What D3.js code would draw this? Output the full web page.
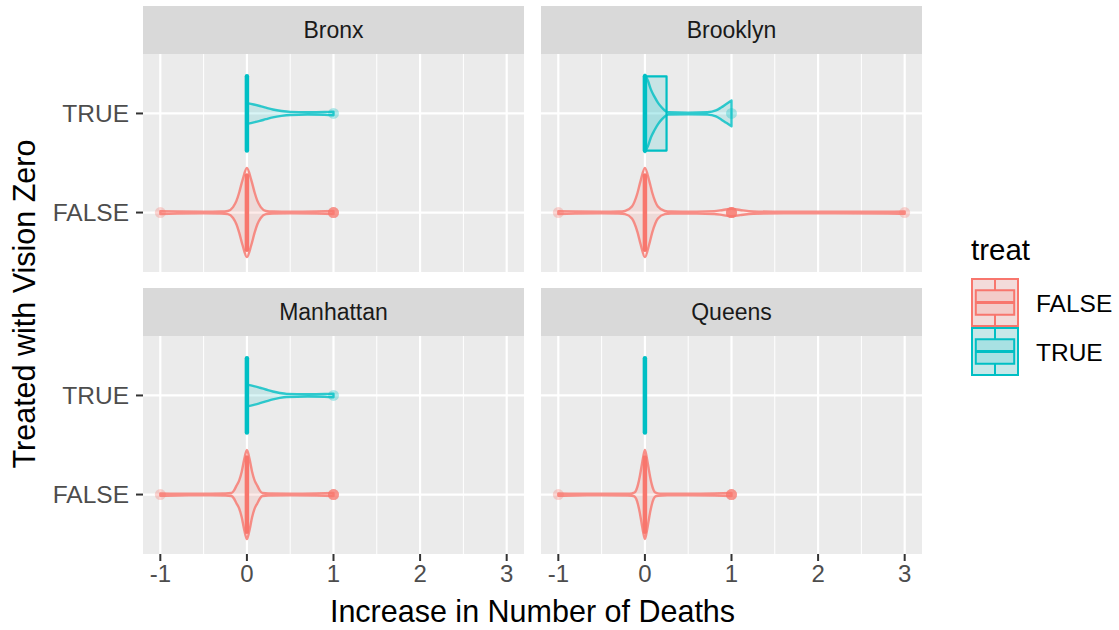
<!DOCTYPE html>
<html>
<head>
<meta charset="utf-8">
<script src="https://cdn.jsdelivr.net/npm/d3@7"></script>
<style>
  body { margin: 0; background: #fff; }
  text { font-family: "Liberation Sans", Arial, sans-serif; }
</style>
</head>
<body>
<svg id="chart"></svg>
<script>
const boroughs = ["Bronx", "Brooklyn", "Manhattan", "Queens"]
const treatLevels = ["TRUE", "FALSE"]
const xTicks = [-1, 0, 1, 2, 3]
const xMinorTicks = [-0.5, 0.5, 1.5, 2.5]

// violin outlines: [value, half width as share of the group spacing]
const bronxFalseViolin = [[-1, 0.014], [-0.8, 0.01], [-0.5, 0.008], [-0.3, 0.01], [-0.22, 0.016], [-0.16, 0.055], [-0.12, 0.12], [-0.09, 0.2], [-0.05, 0.33], [0, 0.45], [0.05, 0.33], [0.09, 0.2], [0.12, 0.12], [0.16, 0.055], [0.22, 0.016], [0.3, 0.01], [0.5, 0.008], [0.8, 0.011], [1, 0.016]]
const bronxTrueViolin = [[0, 0.105], [0.08, 0.09], [0.15, 0.075], [0.22, 0.058], [0.3, 0.04], [0.4, 0.025], [0.5, 0.016], [0.7, 0.012], [0.9, 0.014], [1, 0.018]]
const brooklynFalseViolin = [[-1, 0.014], [-0.8, 0.01], [-0.5, 0.008], [-0.3, 0.01], [-0.23, 0.016], [-0.15, 0.06], [-0.12, 0.11], [-0.085, 0.2], [-0.05, 0.32], [0, 0.45], [0.05, 0.32], [0.085, 0.2], [0.12, 0.11], [0.15, 0.06], [0.23, 0.016], [0.3, 0.01], [0.6, 0.009], [0.8, 0.014], [0.9, 0.026], [1, 0.038], [1.1, 0.026], [1.25, 0.012], [1.6, 0.008], [2.2, 0.008], [2.8, 0.009], [3, 0.012]]
const brooklynTrueViolin = [[0, 0.39], [0.035, 0.33], [0.07, 0.24], [0.11, 0.17], [0.15, 0.11], [0.19, 0.065], [0.23, 0.03], [0.27, 0.012], [0.5, 0.008], [0.72, 0.012], [0.82, 0.03], [0.88, 0.06], [0.94, 0.095], [1, 0.13]]
const manhattanFalseViolin = [[-1, 0.012], [-0.8, 0.009], [-0.5, 0.008], [-0.25, 0.01], [-0.18, 0.015], [-0.15, 0.04], [-0.12, 0.09], [-0.09, 0.14], [-0.06, 0.23], [-0.03, 0.36], [0, 0.45], [0.03, 0.36], [0.06, 0.23], [0.09, 0.14], [0.12, 0.09], [0.15, 0.04], [0.18, 0.015], [0.25, 0.01], [0.5, 0.008], [0.8, 0.011], [1, 0.016]]
const manhattanTrueViolin = [[0, 0.11], [0.08, 0.095], [0.15, 0.078], [0.22, 0.06], [0.3, 0.04], [0.38, 0.025], [0.46, 0.016], [0.7, 0.012], [0.9, 0.014], [1, 0.018]]
const queensFalseViolin = [[-1, 0.012], [-0.8, 0.009], [-0.5, 0.008], [-0.2, 0.009], [-0.15, 0.012], [-0.12, 0.02], [-0.1, 0.045], [-0.08, 0.1], [-0.06, 0.18], [-0.04, 0.28], [-0.02, 0.38], [0, 0.45], [0.02, 0.38], [0.04, 0.28], [0.06, 0.18], [0.08, 0.1], [0.1, 0.045], [0.12, 0.02], [0.15, 0.012], [0.2, 0.009], [0.5, 0.008], [0.8, 0.011], [1, 0.016]]

const violins = [
  { borough: "Bronx", treat: "FALSE", shape: bronxFalseViolin },
  { borough: "Bronx", treat: "TRUE", shape: bronxTrueViolin },
  { borough: "Brooklyn", treat: "FALSE", shape: brooklynFalseViolin },
  { borough: "Brooklyn", treat: "TRUE", shape: brooklynTrueViolin },
  { borough: "Manhattan", treat: "FALSE", shape: manhattanFalseViolin },
  { borough: "Manhattan", treat: "TRUE", shape: manhattanTrueViolin },
  { borough: "Queens", treat: "FALSE", shape: queensFalseViolin },
]

const boxStats = [
  { borough: "Bronx", treat: "FALSE", q1: 0, med: 0, q3: 0 },
  { borough: "Bronx", treat: "TRUE", q1: 0, med: 0, q3: 0 },
  { borough: "Brooklyn", treat: "FALSE", q1: 0, med: 0, q3: 0 },
  { borough: "Brooklyn", treat: "TRUE", q1: 0, med: 0, q3: 0.25 },
  { borough: "Manhattan", treat: "FALSE", q1: 0, med: 0, q3: 0 },
  { borough: "Manhattan", treat: "TRUE", q1: 0, med: 0, q3: 0 },
  { borough: "Queens", treat: "FALSE", q1: 0, med: 0, q3: 0 },
  { borough: "Queens", treat: "TRUE", q1: 0, med: 0, q3: 0 },
]

// outliers: value and how many points sit on it
const outliers = [
  { borough: "Bronx", treat: "FALSE", value: -1, n: 1 },
  { borough: "Bronx", treat: "FALSE", value: 1, n: 4 },
  { borough: "Bronx", treat: "TRUE", value: 1, n: 1 },
  { borough: "Brooklyn", treat: "FALSE", value: -1, n: 1 },
  { borough: "Brooklyn", treat: "FALSE", value: 1, n: 5 },
  { borough: "Brooklyn", treat: "FALSE", value: 3, n: 1 },
  { borough: "Brooklyn", treat: "TRUE", value: 1, n: 1 },
  { borough: "Manhattan", treat: "FALSE", value: -1, n: 1 },
  { borough: "Manhattan", treat: "FALSE", value: 1, n: 4 },
  { borough: "Manhattan", treat: "TRUE", value: 1, n: 1 },
  { borough: "Queens", treat: "FALSE", value: -1, n: 1 },
  { borough: "Queens", treat: "FALSE", value: 1, n: 4 },
]

const colors = { FALSE: "#F8766D", TRUE: "#00BFC4" }

const w = 1119
const h = 630
const panelLeft = [143, 541]
const panelW = 381
const stripTop = [6, 288]
const stripH = 48
const panelH = 218

const svg = d3.select("#chart").attr("width", w).attr("height", h)
svg.append("rect").attr("width", w).attr("height", h).attr("fill", "white")

const xScale = (i) =>
  d3.scaleLinear().domain([-1.2, 3.2]).range([panelLeft[i % 2], panelLeft[i % 2] + panelW])
const yScale = (i) => {
  const top = stripTop[Math.floor(i / 2)] + stripH
  return d3.scalePoint().domain(treatLevels).range([top, top + panelH]).padding(0.6)
}

boroughs.forEach((b, i) => {
  const x = xScale(i)
  const y = yScale(i)
  const step = y.step()
  const px = panelLeft[i % 2]
  const sy = stripTop[Math.floor(i / 2)]
  const py = sy + stripH
  const g = svg.append("g").attr("class", "panel")

  // strip
  g.append("rect").attr("x", px).attr("y", sy).attr("width", panelW).attr("height", stripH).attr("fill", "#D9D9D9")
  g.append("text")
    .attr("x", px + panelW / 2).attr("y", sy + stripH / 2)
    .attr("text-anchor", "middle").attr("dominant-baseline", "central")
    .attr("font-size", 23).attr("fill", "#1A1A1A")
    .text(b)

  // panel background and grid
  g.append("rect").attr("x", px).attr("y", py).attr("width", panelW).attr("height", panelH).attr("fill", "#EBEBEB")
  g.selectAll(".minor").data(xMinorTicks).enter().append("line")
    .attr("x1", (d) => x(d)).attr("x2", (d) => x(d))
    .attr("y1", py).attr("y2", py + panelH)
    .attr("stroke", "white").attr("stroke-width", 1)
  g.selectAll(".majorx").data(xTicks).enter().append("line")
    .attr("x1", (d) => x(d)).attr("x2", (d) => x(d))
    .attr("y1", py).attr("y2", py + panelH)
    .attr("stroke", "white").attr("stroke-width", 2.2)
  g.selectAll(".majory").data(treatLevels).enter().append("line")
    .attr("x1", px).attr("x2", px + panelW)
    .attr("y1", (d) => y(d)).attr("y2", (d) => y(d))
    .attr("stroke", "white").attr("stroke-width", 2.2)

  // violins
  violins.filter((v) => v.borough === b).forEach((v) => {
    const yc = y(v.treat)
    const area = d3.area()
      .x((d) => x(d[0]))
      .y0((d) => yc - d[1] * step)
      .y1((d) => yc + d[1] * step)
      .curve(d3.curveMonotoneX)
    g.append("path")
      .attr("d", area(v.shape))
      .attr("fill", colors[v.treat]).attr("fill-opacity", 0.15)
      .attr("stroke", colors[v.treat]).attr("stroke-opacity", 0.8)
      .attr("stroke-width", 2.4).attr("stroke-linejoin", "round")
  })

  // boxplots
  boxStats.filter((s) => s.borough === b).forEach((s) => {
    const yc = y(s.treat)
    const half = 0.375 * step
    const p = d3.path()
    p.moveTo(x(s.q1), yc - half)
    p.lineTo(x(s.q3), yc - half)
    p.lineTo(x(s.q3), yc + half)
    p.lineTo(x(s.q1), yc + half)
    p.closePath()
    g.append("path")
      .attr("d", p.toString())
      .attr("fill", colors[s.treat]).attr("fill-opacity", 0.15)
      .attr("stroke", colors[s.treat]).attr("stroke-width", 2.2)
      .attr("stroke-linejoin", "round")
    g.append("line")
      .attr("x1", x(s.med)).attr("x2", x(s.med))
      .attr("y1", yc - half).attr("y2", yc + half)
      .attr("stroke", colors[s.treat]).attr("stroke-width", 4.5)
      .attr("stroke-linecap", "round")
  })

  // outlier points, drawn once per observation
  outliers.filter((o) => o.borough === b).forEach((o) => {
    d3.range(o.n).forEach(() => {
      g.append("circle")
        .attr("cx", x(o.value)).attr("cy", y(o.treat)).attr("r", 5.5)
        .attr("fill", colors[o.treat]).attr("fill-opacity", 0.3)
    })
  })

  // x axis (bottom row only)
  if (Math.floor(i / 2) === 1) {
    const ax = g.append("g")
    ax.selectAll("line").data(xTicks).enter().append("line")
      .attr("x1", (d) => x(d)).attr("x2", (d) => x(d))
      .attr("y1", py + panelH).attr("y2", py + panelH + 7)
      .attr("stroke", "#333333").attr("stroke-width", 2)
    ax.selectAll("text").data(xTicks).enter().append("text")
      .attr("x", (d) => x(d)).attr("y", py + panelH + 10)
      .attr("dy", "0.76em").attr("text-anchor", "middle")
      .attr("font-size", 24).attr("fill", "#4D4D4D")
      .text((d) => d)
  }

  // y axis (left column only)
  if (i % 2 === 0) {
    const ay = g.append("g")
    ay.selectAll("line").data(treatLevels).enter().append("line")
      .attr("x1", px - 7).attr("x2", px)
      .attr("y1", (d) => y(d)).attr("y2", (d) => y(d))
      .attr("stroke", "#333333").attr("stroke-width", 2)
    ay.selectAll("text").data(treatLevels).enter().append("text")
      .attr("x", px - 14).attr("y", (d) => y(d))
      .attr("text-anchor", "end").attr("dominant-baseline", "central")
      .attr("font-size", 24.5).attr("fill", "#4D4D4D")
      .text((d) => d)
  }
})

// axis titles
svg.append("text")
  .attr("x", (panelLeft[0] + panelLeft[1] + panelW) / 2).attr("y", 622)
  .attr("text-anchor", "middle").attr("font-size", 30.5).attr("fill", "black")
  .text("Increase in Number of Deaths")
svg.append("text")
  .attr("transform", `translate(35,${(stripTop[0] + stripH + stripTop[1] + stripH + panelH) / 2}) rotate(-90)`)
  .attr("text-anchor", "middle").attr("font-size", 30.5).attr("fill", "black")
  .text("Treated with Vision Zero")

// legend
const legend = svg.append("g").attr("id", "legend")
legend.append("text").attr("x", 971).attr("y", 260).attr("font-size", 29.5).attr("fill", "black").text("treat")
const legendLevels = ["FALSE", "TRUE"]
const keyW = 48
const keyH = 49
legendLevels.forEach((lv, k) => {
  const kx = 971
  const ky = 278 + k * keyH
  const c = colors[lv]
  legend.append("rect").attr("x", kx).attr("y", ky).attr("width", keyW).attr("height", keyH).attr("fill", "#F2F2F2")
  legend.append("rect").attr("x", kx + 1).attr("y", ky + 1).attr("width", keyW - 2).attr("height", keyH - 2)
    .attr("fill", c).attr("fill-opacity", 0.18).attr("stroke", c).attr("stroke-width", 2)
  legend.append("line").attr("x1", kx + keyW / 2).attr("x2", kx + keyW / 2)
    .attr("y1", ky + 1).attr("y2", ky + keyH * 0.25).attr("stroke", c).attr("stroke-width", 2)
  legend.append("line").attr("x1", kx + keyW / 2).attr("x2", kx + keyW / 2)
    .attr("y1", ky + keyH * 0.75).attr("y2", ky + keyH - 1).attr("stroke", c).attr("stroke-width", 2)
  legend.append("rect").attr("x", kx + keyW * 0.1).attr("y", ky + keyH * 0.25)
    .attr("width", keyW * 0.8).attr("height", keyH * 0.5)
    .attr("fill", c).attr("fill-opacity", 0.15).attr("stroke", c).attr("stroke-width", 2)
  legend.append("line").attr("x1", kx + keyW * 0.1).attr("x2", kx + keyW * 0.9)
    .attr("y1", ky + keyH * 0.5).attr("y2", ky + keyH * 0.5).attr("stroke", c).attr("stroke-width", 3)
  legend.append("text").attr("x", 1036).attr("y", ky + keyH / 2 + 1)
    .attr("dominant-baseline", "central").attr("font-size", 24.5).attr("fill", "black")
    .text(lv)
})
</script>
</body>
</html>
